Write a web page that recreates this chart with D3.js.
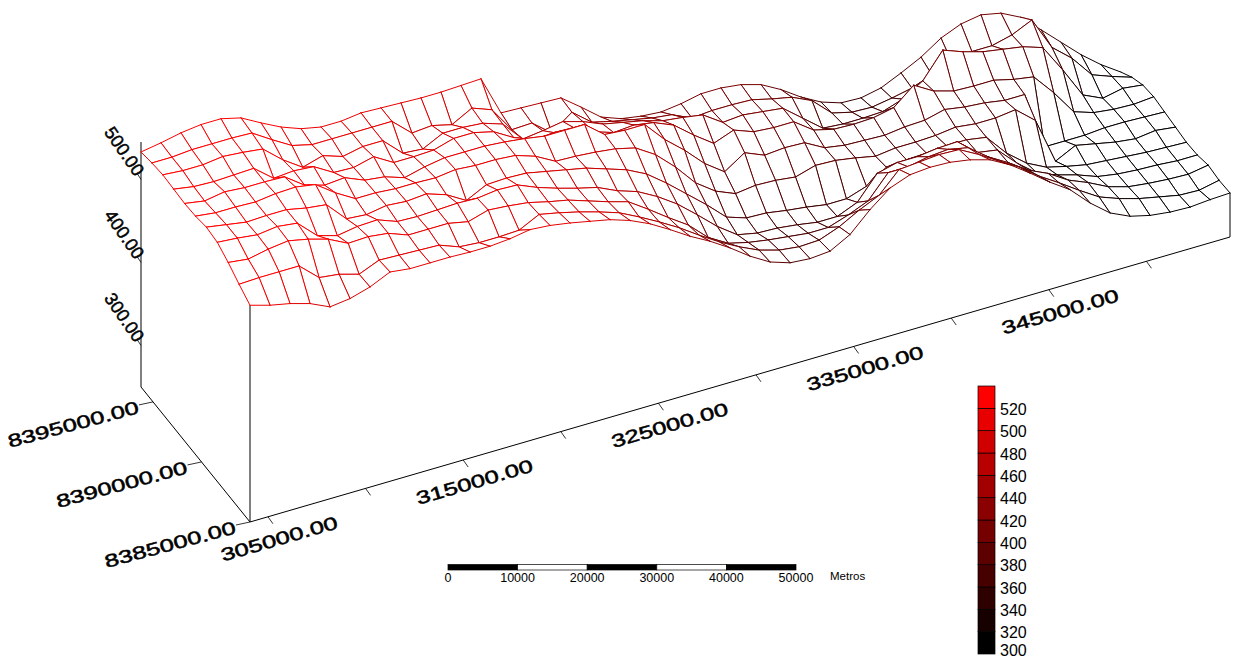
<!DOCTYPE html>
<head>
  <meta charset="utf-8">
  <style>
    body { margin: 0; background: #fff; font-family: "Liberation Sans", Arial, sans-serif; }
    svg { display: block; }
    .cell-fill { fill: #fff; stroke: none; }
    .wire { fill: none; stroke-width: 1px; stroke-linecap: round; }
    .box { stroke: #000; stroke-width: 1px; fill: none; }
    .axis-label { font-size: 18px; fill: #000; stroke: #000; stroke-width: .5px; }
  </style>
  <script src="https://d3js.org/d3.v7.min.js"></script>
</head>
<body>
  <script>
    const row0 = [511,504,499,492,481,484,491,502,499,499,499,498,498,500,504,502,498,493,488,480,469,455,440,427,412,395,381,373,371,373,386,409,428,437,439,438,434,427,414,397,379,363,340,321,310,304,301,300,302,303];
    const row1 = [520,521,521,521,500,497,490,500,499,498,497,488,486,486,487,499,494,488,481,473,461,448,434,418,403,390,379,372,369,370,379,392,403,427,429,431,430,417,402,388,370,355,339,324,315,308,303,298,297,302];
    const row2 = [530,527,532,535,530,523,511,512,509,500,500,500,495,502,500,497,491,486,478,470,463,447,430,414,392,378,372,368,365,362,362,370,380,407,407,412,414,409,391,377,361,350,335,325,313,306,303,301,300,304];
    const row3 = [538,536,533,536,533,511,504,508,509,500,499,500,501,500,503,502,492,484,477,471,460,452,439,423,403,382,365,360,359,356,352,352,362,390,396,396,399,400,380,376,353,334,325,318,309,305,303,302,300,300];
    const row4 = [540,536,532,533,533,528,525,501,499,503,501,503,495,481,493,494,493,488,483,478,470,462,450,432,412,392,370,362,361,357,354,350,350,358,374,376,377,379,379,375,349,330,318,312,307,305,303,301,300,299];
    const row5 = [537,534,534,533,536,537,533,516,502,502,500,500,499,502,500,500,498,490,477,476,474,471,465,450,428,402,385,375,378,377,374,381,380,376,371,374,374,375,378,375,375,378,358,302,314,309,304,301,304,301];
    const row6 = [536,532,536,534,534,533,516,509,511,501,498,490,496,500,500,500,498,495,491,491,491,472,470,470,445,425,402,385,401,391,393,392,379,375,374,373,376,377,383,379,377,373,373,303,303,303,305,305,304,303];
    const row7 = [537,533,532,533,534,515,517,515,501,500,506,492,492,493,500,500,494,480,470,472,471,459,451,453,449,439,420,403,412,403,401,401,384,378,377,378,383,403,389,382,381,381,375,371,345,315,307,304,303,305];
    const row8 = [538,536,536,539,537,534,514,498,505,497,502,502,480,478,490,490,488,480,455,458,462,455,445,440,435,428,425,421,405,407,404,401,382,363,361,361,362,370,385,415,406,399,395,391,383,349,312,301,306,303];
    const row9 = [536,536,538,538,538,537,522,508,502,502,502,502,502,481,483,477,490,481,450,451,432,450,431,425,420,415,412,401,403,403,402,396,391,380,358,352,351,355,360,369,377,383,383,389,400,360,340,313,304,296];
    const row10 = [533,537,542,545,545,539,526,514,505,500,500,503,502,501,500,500,501,502,454,453,452,451,433,414,405,401,399,402,407,407,404,397,384,368,355,347,346,351,362,374,390,400,404,399,387,365,343,321,302,286];

    const xTicks = [305000,310000,315000,320000,325000,330000,335000,340000,345000,350000];
    const xLabels = [305000,315000,325000,335000,345000];
    const yTicks = [8385000,8390000,8395000];
    const zTicks = [300,400,500];
    const legendLevels = [300,320,340,360,380,400,420,440,460,480,500,520];
    const barStops = [0,10000,20000,30000,40000,50000];

    const grid = [row0,row1,row2,row3,row4,row5,row6,row7,row8,row9,row10];
    const xDomain = [304080,354280], yDomain = [8385000,8396240], zDomain = [250,545];
    const nCols = row0.length, nRows = grid.length;

    const svg = d3.select('body').append('svg').attr('width',1236).attr('height',660);

    // oblique projection, each model axis adds a screen offset
    const xRun = d3.scaleLinear().domain(xDomain).range([0,980]);
    const xRise = d3.scaleLinear().domain(xDomain).range([0,-285]);
    const yRun = d3.scaleLinear().domain(yDomain).range([0,-109]);
    const yRise = d3.scaleLinear().domain(yDomain).range([0,-135]);
    const zRise = d3.scaleLinear().domain(zDomain).range([0,-245]);
    const project = (x,y,z) => [250 + xRun(x) + yRun(y), 522 + xRise(x) + yRise(y) + zRise(z)];

    const color = d3.scaleLinear().domain([300,520]).range(['#000000','#ff0000']).clamp(true);

    const gridX = d3.scaleLinear().domain([0,nCols-1]).range(xDomain);
    const gridY = d3.scaleLinear().domain([0,nRows-1]).range(yDomain);
    const node = (i,j) => project(gridX(i),gridY(j),grid[j][i]);

    // box edges
    const [x0,x1] = xDomain, [y0,y1] = yDomain, zb = zDomain[0], zt = zDomain[1];
    const edges = [
      [[x0,y0,zb],[x1,y0,zb]],
      [[x0,y0,zb],[x0,y1,zb]],
      [[x0,y0,zb],[x0,y0,grid[0][0]]],
      [[x1,y0,zb],[x1,y0,grid[0][nCols-1]]],
      [[x0,y1,zb],[x0,y1,zt]]
    ];
    svg.append('g').selectAll('line').data(edges).join('line')
      .attr('class','box')
      .attr('x1',d => project(...d[0])[0]).attr('y1',d => project(...d[0])[1])
      .attr('x2',d => project(...d[1])[0]).attr('y2',d => project(...d[1])[1]);

    // cells back to front so nearer ones hide what is behind them
    const cells = [];
    for (let j = nRows-2; j >= 0; j--) {
      for (let i = nCols-2; i >= 0; i--) cells.push({i,j});
    }
    const seg = (a,b) => ({a,b});
    const mesh = svg.append('g');
    const cell = mesh.selectAll('g').data(cells).join('g');
    cell.append('path').attr('class','cell-fill')
      .attr('d',d => d3.line()([node(d.i,d.j),node(d.i+1,d.j),node(d.i+1,d.j+1),node(d.i,d.j+1)]) + 'Z');
    cell.selectAll('line')
      .data(d => [
        seg([d.i,d.j],[d.i+1,d.j]),
        seg([d.i+1,d.j],[d.i+1,d.j+1]),
        seg([d.i+1,d.j+1],[d.i,d.j+1]),
        seg([d.i,d.j+1],[d.i,d.j])
      ])
      .join('line').attr('class','wire')
      .attr('x1',s => node(...s.a)[0]).attr('y1',s => node(...s.a)[1])
      .attr('x2',s => node(...s.b)[0]).attr('y2',s => node(...s.b)[1])
      .attr('stroke',s => color((grid[s.a[1]][s.a[0]] + grid[s.b[1]][s.b[0]]) / 2));

    // ticks and stretched axis labels
    const ticks = svg.append('g').attr('stroke','#000').attr('stroke-width',.8);
    const labels = svg.append('g');
    const addLabel = (px,py,txt,angle,anchor,sx) => labels.append('text')
      .attr('class','axis-label').attr('text-anchor',anchor)
      .attr('transform',`translate(${px},${py}) rotate(${angle}) scale(${sx},1)`)
      .text(txt);

    xTicks.forEach(v => {
      const p = project(v,y0,zb);
      ticks.append('line').attr('x1',p[0]).attr('y1',p[1]).attr('x2',p[0]+5).attr('y2',p[1]+7);
      if (xLabels.includes(v)) addLabel(p[0]+13,p[1]+28,v.toFixed(2),-16.2,'middle',1.42);
    });
    yTicks.forEach(v => {
      const p = project(x0,v,zb);
      ticks.append('line').attr('x1',p[0]).attr('y1',p[1]).attr('x2',p[0]-14).attr('y2',p[1]+3);
      addLabel(p[0]-13,p[1]+11,v.toFixed(2),-15,'end',1.42);
    });
    zTicks.forEach(v => {
      const p = project(x0,y1,v);
      ticks.append('line').attr('x1',p[0]).attr('y1',p[1]).attr('x2',p[0]-4).attr('y2',p[1]-6);
      addLabel(p[0]-6,p[1]-2,v.toFixed(2),55,'end',1);
    });

    // scale bar
    const bar = d3.scaleLinear().domain([0,50000]).range([448,796]);
    const scaleBar = svg.append('g');
    scaleBar.selectAll('rect').data(d3.pairs(barStops)).join('rect')
      .attr('x',d => bar(d[0])).attr('y',564.5)
      .attr('width',d => bar(d[1]) - bar(d[0])).attr('height',5.5)
      .attr('fill',(d,i) => i % 2 ? '#fff' : '#000')
      .attr('stroke','#000').attr('stroke-width',.7);
    scaleBar.selectAll('text').data(barStops).join('text')
      .attr('x',d => bar(d)).attr('y',582).attr('text-anchor','middle')
      .attr('font-size',12.5).text(d => d);
    scaleBar.append('text').attr('x',830).attr('y',580).attr('font-size',11.5).text('Metros');

    // colour legend
    const legendY = d3.scaleLinear().domain([300,540]).range([654,386]);
    const legend = svg.append('g');
    legend.selectAll('rect').data(legendLevels).join('rect')
      .attr('x',978).attr('width',17)
      .attr('y',d => legendY(d+20)).attr('height',d => legendY(d) - legendY(d+20))
      .attr('fill',d => color(d)).attr('stroke','#000').attr('stroke-width',.7);
    legend.selectAll('text').data(legendLevels).join('text')
      .attr('x',1000).attr('y',d => Math.min(legendY(d)+6.5,656)).attr('font-size',16)
      .text(d => d);
  </script>
</body>
